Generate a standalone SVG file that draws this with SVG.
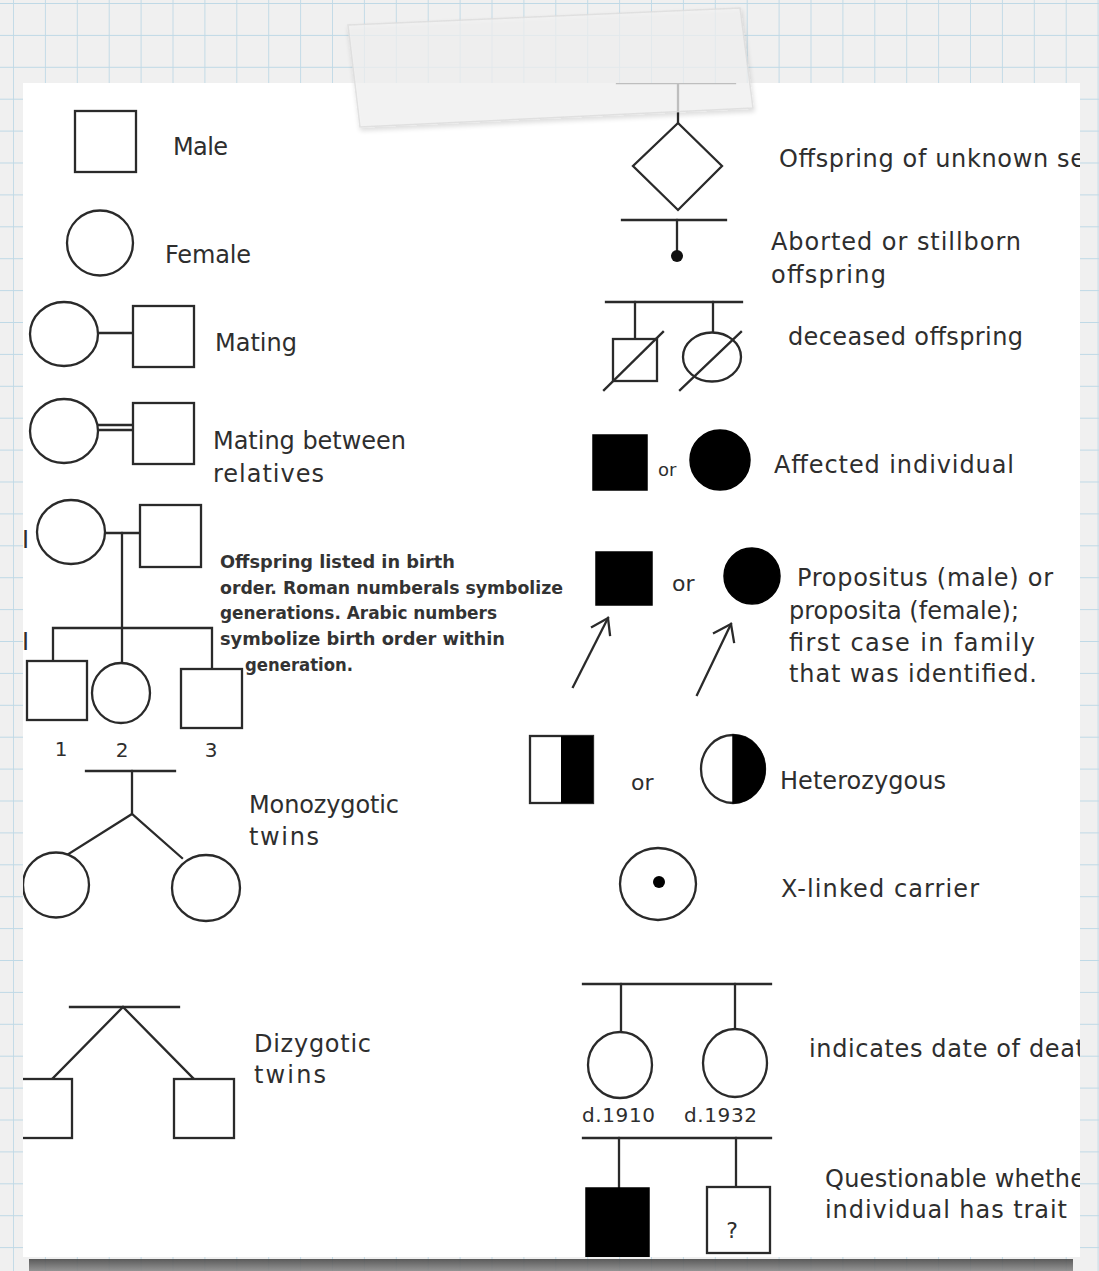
<svg xmlns="http://www.w3.org/2000/svg" width="1099" height="1271" viewBox="0 0 1099 1271">
<style>
.ln{fill:none;stroke:#2a2a2a;stroke-width:2.3;stroke-linecap:square}
.sh{fill:#fff;stroke:#2a2a2a;stroke-width:2.3}
.bk{fill:#000;stroke:#000;stroke-width:1.5}
.lb{font-family:"DejaVu Sans","Liberation Sans",sans-serif;font-size:24px;fill:#2e2e2e}
.pr{font-family:"DejaVu Sans","Liberation Sans",sans-serif;font-size:18px;font-weight:bold;font-stretch:condensed;fill:#333}
.sm{font-family:"DejaVu Sans","Liberation Sans",sans-serif;font-size:20px;fill:#2e2e2e}
</style>
<defs>
<pattern id="grid" patternUnits="userSpaceOnUse" x="13" y="3" width="31.9" height="31.9">
<path d="M0 0V31.9M0 0H31.9" fill="none" stroke="#bfd9e6" stroke-width="1.8"/>
</pattern>
<clipPath id="paper"><rect x="23" y="83" width="1057" height="1174"/></clipPath>
<linearGradient id="shadow" x1="0" y1="0" x2="0" y2="1">
<stop offset="0" stop-color="#4a4a4a"/><stop offset="1" stop-color="#8a8a8a"/>
</linearGradient>
<filter id="tapeShadow" x="-10%" y="-30%" width="120%" height="160%">
<feGaussianBlur in="SourceAlpha" stdDeviation="2.5"/>
<feOffset dx="1" dy="3" result="b"/>
<feComponentTransfer><feFuncA type="linear" slope="0.18"/></feComponentTransfer>
<feMerge><feMergeNode/><feMergeNode in="SourceGraphic"/></feMerge>
</filter>
</defs>

<!-- background -->
<rect x="0" y="0" width="1099" height="1271" fill="#f0f0f0"/>
<rect x="0" y="0" width="1099" height="1271" fill="url(#grid)"/>
<rect x="29" y="1259" width="1044" height="12" fill="url(#shadow)" opacity="0.9"/>
<rect x="23" y="83" width="1057" height="1174" fill="#fff"/>

<g clip-path="url(#paper)">
<g id="connectors">
<line class="ln" x1="98" y1="333" x2="133" y2="333"/>
<line class="ln" x1="97" y1="425" x2="133" y2="425"/>
<line class="ln" x1="97" y1="430" x2="133" y2="430"/>
<line class="ln" x1="105" y1="533" x2="140" y2="533"/>
<line class="ln" x1="122" y1="533" x2="122" y2="628"/>
<polyline class="ln" points="53,661 53,628 212,628 212,669"/>
<line class="ln" x1="122" y1="628" x2="122" y2="663"/>
<line class="ln" x1="86" y1="771" x2="175" y2="771"/>
<line class="ln" x1="132" y1="771" x2="132" y2="814"/>
<polyline class="ln" points="67,855 132,814 182,858"/>
<line class="ln" x1="70" y1="1007" x2="179" y2="1007"/>
<polyline class="ln" points="53,1078 123,1007 193,1078"/>
<line class="ln" x1="617" y1="83" x2="735" y2="83"/>
<line class="ln" x1="678" y1="83" x2="678" y2="123"/>
<line class="ln" x1="622" y1="220" x2="726" y2="220"/>
<line class="ln" x1="677" y1="220" x2="677" y2="254"/>
<line class="ln" x1="606" y1="302" x2="742" y2="302"/>
<line class="ln" x1="635" y1="302" x2="635" y2="339"/>
<line class="ln" x1="713" y1="302" x2="713" y2="333"/>
<line class="ln" x1="573" y1="687" x2="608" y2="618"/>
<polyline class="ln" points="592,627 608,618 610,635"/>
<line class="ln" x1="697" y1="695" x2="731" y2="624"/>
<polyline class="ln" points="714,633 731,624 734,642"/>
<line class="ln" x1="583" y1="984" x2="771" y2="984"/>
<line class="ln" x1="621" y1="984" x2="621" y2="1032"/>
<line class="ln" x1="735" y1="984" x2="735" y2="1030"/>
<line class="ln" x1="583" y1="1138" x2="771" y2="1138"/>
<line class="ln" x1="619" y1="1138" x2="619" y2="1188"/>
<line class="ln" x1="736" y1="1138" x2="736" y2="1187"/>
</g>

<g id="male"><rect class="sh" x="75" y="111" width="61" height="61"/><text class="lb" x="173" y="155" textLength="55">Male</text></g>
<g id="female"><ellipse class="sh" cx="100" cy="243" rx="33" ry="32.5"/><text class="lb" x="165" y="263" textLength="86">Female</text></g>
<g id="mating"><ellipse class="sh" cx="64" cy="334" rx="34" ry="32"/><rect class="sh" x="133" y="306" width="61" height="61"/><text class="lb" x="215" y="351" textLength="82">Mating</text></g>
<g id="relatives"><ellipse class="sh" cx="64" cy="431" rx="34" ry="32"/><rect class="sh" x="133" y="403" width="61" height="61"/><text class="lb" x="213" y="449" textLength="193">Mating between</text><text class="lb" x="213" y="482" textLength="111">relatives</text></g>

<g id="generation-I">
<text class="lb" x="22" y="548">I</text>
<ellipse class="sh" cx="71" cy="532" rx="34" ry="32"/>
<rect class="sh" x="140" y="505" width="61" height="62"/>
</g>
<g id="generation-II">
<text class="lb" x="22" y="650">I</text>
<rect class="sh" x="27" y="661" width="60" height="59"/>
<ellipse class="sh" cx="121" cy="693" rx="29" ry="30"/>
<rect class="sh" x="181" y="669" width="61" height="59"/>
<text class="sm" x="61" y="756" text-anchor="middle">1</text>
<text class="sm" x="122" y="757" text-anchor="middle">2</text>
<text class="sm" x="211" y="757" text-anchor="middle">3</text>
</g>
<g id="offspring-note">
<text class="pr" x="220" y="568" textLength="235" lengthAdjust="spacingAndGlyphs">Offspring listed in birth</text>
<text class="pr" x="220" y="594" textLength="343" lengthAdjust="spacingAndGlyphs">order. Roman numberals symbolize</text>
<text class="pr" x="220" y="619" textLength="277" lengthAdjust="spacingAndGlyphs">generations. Arabic numbers</text>
<text class="pr" x="220" y="645" textLength="285" lengthAdjust="spacingAndGlyphs">symbolize birth order within</text>
<text class="pr" x="245" y="671" textLength="108" lengthAdjust="spacingAndGlyphs">generation.</text>
</g>

<g id="monozygotic">
<ellipse class="sh" cx="56" cy="885" rx="33" ry="32.5"/>
<ellipse class="sh" cx="206" cy="888" rx="34" ry="33"/>
<text class="lb" x="249" y="813" textLength="150">Monozygotic</text>
<text class="lb" x="249" y="845" textLength="70">twins</text>
</g>
<g id="dizygotic">
<rect class="sh" x="12" y="1079" width="60" height="59"/>
<rect class="sh" x="174" y="1079" width="60" height="59"/>
<text class="lb" x="254" y="1052" textLength="117">Dizygotic</text>
<text class="lb" x="254" y="1083" textLength="72">twins</text>
</g>

<g id="unknown-sex">
<polygon class="sh" points="678,123 722,166 678,210 633,166"/>
<text class="lb" x="779" y="167" textLength="306">Offspring of unknown se</text>
</g>
<g id="aborted">
<circle cx="677" cy="256" r="6" fill="#111"/>
<text class="lb" x="771" y="250" textLength="250">Aborted or stillborn</text>
<text class="lb" x="771" y="283" textLength="115">offspring</text>
</g>
<g id="deceased">
<rect class="sh" x="613" y="339" width="44" height="42"/>
<ellipse class="sh" cx="712" cy="357" rx="29" ry="24.5"/>
<line class="ln" x1="604" y1="390" x2="663" y2="332"/>
<line class="ln" x1="680" y1="390" x2="741" y2="332"/>
<text class="lb" x="788" y="345" textLength="235">deceased offspring</text>
</g>
<g id="affected">
<rect class="bk" x="593" y="435" width="54" height="55"/>
<text class="sm" x="658" y="476" style="font-size:18px">or</text>
<circle class="bk" cx="720" cy="460" r="30"/>
<text class="lb" x="774" y="473" textLength="240">Affected individual</text>
</g>
<g id="propositus">
<rect class="bk" x="596" y="552" width="56" height="53"/>
<text class="sm" x="672" y="591" style="font-size:22px">or</text>
<circle class="bk" cx="752" cy="576" r="28"/>
<text class="lb" x="797" y="586" textLength="256">Propositus (male) or</text>
<text class="lb" x="789" y="619" textLength="230">proposita (female);</text>
<text class="lb" x="789" y="651" textLength="246">first case in family</text>
<text class="lb" x="789" y="682" textLength="248">that was identified.</text>
</g>
<g id="heterozygous">
<rect class="sh" x="530" y="736" width="63" height="67"/>
<rect x="561" y="736" width="32" height="67" fill="#000"/>
<ellipse class="sh" cx="733" cy="769" rx="32" ry="34"/>
<path d="M733 735 A32 34 0 0 1 733 803 Z" fill="#000" stroke="#000" stroke-width="1.5"/>
<text class="sm" x="631" y="790" style="font-size:22px">or</text>
<text class="lb" x="780" y="789" textLength="166">Heterozygous</text>
</g>
<g id="x-linked-carrier">
<ellipse class="sh" cx="658" cy="884" rx="38" ry="36"/>
<circle cx="659" cy="882" r="6" fill="#000"/>
<text class="lb" x="781" y="897" textLength="198">X-linked carrier</text>
</g>
<g id="date-of-death">
<ellipse class="sh" cx="620" cy="1065" rx="32" ry="33"/>
<ellipse class="sh" cx="735" cy="1063" rx="32" ry="34"/>
<text class="sm" x="582" y="1122" textLength="73">d.1910</text>
<text class="sm" x="684" y="1122" textLength="73">d.1932</text>
<text class="lb" x="809" y="1057" textLength="276">indicates date of deat</text>
</g>
<g id="questionable">
<rect class="bk" x="586" y="1188" width="63" height="75"/>
<rect class="sh" x="707" y="1187" width="63" height="66"/>
<text class="sm" x="732" y="1238" text-anchor="middle" style="font-size:22px">?</text>
<text class="lb" x="825" y="1187" textLength="260">Questionable whethe</text>
<text class="lb" x="825" y="1218" textLength="242">individual has trait</text>
</g>
</g>

<g id="tape" filter="url(#tapeShadow)">
<polygon points="348,25 740,8 753,108 360,127" fill="#f2f2f2" opacity="0.72"/>
<polygon points="348,25 740,8 753,108 360,127" fill="none" stroke="#dcdcdc" stroke-width="1.5" opacity="0.8"/>
</g>
</svg>
